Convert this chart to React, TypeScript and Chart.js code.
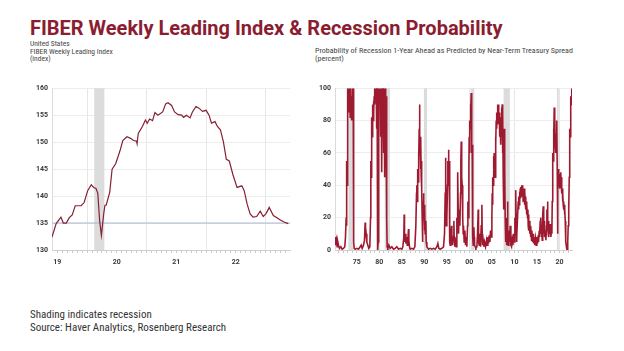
import React, { useEffect, useRef } from 'react';
import { Chart, registerables } from 'chart.js';

Chart.register(...registerables);

// ---------- text ----------
const TITLE = 'FIBER Weekly Leading Index & Recession Probability';
const LEFT_SUB = ['United States', 'FIBER Weekly Leading Index', '(index)'];
const RIGHT_SUB = ['Probability of Recession 1-Year Ahead as Predicted by Near-Term Treasury Spread', '(percent)'];
const FOOTER = ['Shading indicates recession', 'Source: Haver Analytics, Rosenberg Research'];

// ---------- left chart data ----------
const leftYears = [
  2019.41, 2019.48, 2019.56, 2019.60, 2019.65, 2019.70, 2019.75, 2019.80, 2019.90, 2019.95,
  2020.01, 2020.07, 2020.11, 2020.15, 2020.18, 2020.21, 2020.24, 2020.28, 2020.30, 2020.32,
  2020.38, 2020.42, 2020.48, 2020.55, 2020.60, 2020.67, 2020.73, 2020.78, 2020.83, 2020.84,
  2020.86, 2020.93, 2020.98, 2021.01, 2021.05, 2021.10, 2021.14, 2021.19, 2021.27, 2021.32,
  2021.36, 2021.42, 2021.47, 2021.53, 2021.59, 2021.62, 2021.67, 2021.73, 2021.77, 2021.83,
  2021.88, 2021.94, 2022.00, 2022.05, 2022.09, 2022.15, 2022.19, 2022.24, 2022.29, 2022.34,
  2022.39, 2022.45, 2022.52, 2022.60, 2022.64, 2022.69, 2022.74, 2022.79, 2022.85, 2022.91,
  2022.96, 2023.01, 2023.06, 2023.13, 2023.19, 2023.24, 2023.31, 2023.38,
];
const leftIndex = [
  132.4, 134.9, 136.1, 135.0, 135.0, 136.0, 136.5, 138.2, 138.2, 138.8,
  141.0, 142.1, 141.6, 141.4, 140.5, 135.5, 132.7, 136.8, 138.3, 138.3,
  140.7, 145.0, 146.0, 148.3, 150.3, 151.0, 150.7, 150.3, 150.2, 149.7,
  151.6, 152.9, 154.1, 153.5, 154.3, 154.0, 155.5, 155.0, 155.6, 157.1,
  157.3, 156.8, 155.6, 155.1, 155.0, 154.6, 155.0, 154.5, 155.6, 156.6,
  156.3, 155.7, 155.9, 155.0, 153.5, 153.8, 152.9, 152.3, 150.1, 146.8,
  146.5, 144.0, 141.6, 141.9, 141.0, 138.5, 136.7, 136.1, 136.2, 137.2,
  136.2, 136.8, 137.9, 136.4, 136.0, 135.6, 135.2, 134.9,
];
const leftRefLevel = 135;
const leftRange = [2019.41, 2023.41];
const leftYRange = [130, 160];
const leftLabelYears = [2019.5, 2020.5, 2021.5, 2022.5];
const leftLabels = ['19', '20', '21', '22'];
const leftGridYears = [2020, 2021, 2022, 2023];
const leftRecessions: [number, number][] = [[2020.12, 2020.29]];

// ---------- right chart data: [year, percent] ----------
const recessionProb: [number, number][] = [
  [1970.19, 8], [1970.33, 3], [1970.48, 6], [1970.63, 2], [1970.78, 5], [1970.93, 3], [1971.15, 1], [1971.44, 2],
  [1971.74, 0.5], [1972.04, 1], [1972.33, 2], [1972.48, 8], [1972.63, 20], [1972.70, 15], [1972.78, 55], [1972.85, 40],
  [1972.93, 80], [1973.00, 100], [1973.07, 92], [1973.15, 100], [1973.22, 85], [1973.30, 98], [1973.37, 90], [1973.44, 100],
  [1973.52, 82], [1973.59, 96], [1973.67, 100], [1973.74, 88], [1973.81, 95], [1973.89, 80], [1973.96, 92], [1974.04, 100],
  [1974.11, 85], [1974.19, 100], [1974.26, 60], [1974.33, 5], [1974.41, 1], [1974.63, 0.5], [1975.00, 1], [1975.37, 0.5],
  [1975.74, 2], [1975.96, 3], [1976.19, 1], [1976.48, 3], [1976.70, 6], [1976.85, 17], [1976.93, 8], [1977.07, 10],
  [1977.22, 5], [1977.44, 3], [1977.67, 1], [1977.89, 2], [1978.04, 20], [1978.11, 55], [1978.19, 45], [1978.26, 75],
  [1978.33, 82], [1978.41, 70], [1978.48, 85], [1978.56, 90], [1978.63, 80], [1978.70, 92], [1978.78, 85], [1978.85, 95],
  [1978.93, 100], [1979.00, 90], [1979.07, 100], [1979.22, 95], [1979.30, 100], [1979.37, 75], [1979.44, 100], [1979.52, 100],
  [1979.59, 30], [1979.67, 0], [1979.74, 5], [1979.81, 60], [1979.89, 100], [1979.96, 90], [1980.04, 100], [1980.11, 100],
  [1980.19, 95], [1980.26, 100], [1980.33, 70], [1980.41, 100], [1980.48, 100], [1980.56, 48], [1980.63, 100], [1980.70, 90],
  [1980.78, 100], [1980.85, 100], [1980.93, 60], [1981.00, 100], [1981.07, 95], [1981.15, 100], [1981.22, 45], [1981.30, 100],
  [1981.37, 92], [1981.44, 95], [1981.52, 70], [1981.59, 95], [1981.67, 20], [1981.74, 2], [1981.89, 1], [1982.11, 3],
  [1982.41, 1], [1982.78, 2], [1983.15, 0.5], [1983.52, 1], [1983.89, 2], [1984.26, 0.5], [1984.63, 1], [1985.00, 0.5],
  [1985.22, 2], [1985.44, 8], [1985.52, 22], [1985.59, 5], [1985.74, 10], [1985.89, 4], [1986.04, 8], [1986.19, 3],
  [1986.33, 6], [1986.48, 13], [1986.56, 6], [1986.70, 2], [1986.85, 0.5], [1987.22, 1], [1987.59, 0.5], [1987.89, 2],
  [1988.11, 15], [1988.26, 35], [1988.33, 40], [1988.41, 30], [1988.48, 45], [1988.56, 50], [1988.63, 42], [1988.70, 60],
  [1988.78, 55], [1988.85, 75], [1988.93, 90], [1989.00, 60], [1989.07, 70], [1989.15, 50], [1989.22, 70], [1989.30, 45],
  [1989.37, 55], [1989.44, 38], [1989.52, 20], [1989.59, 5], [1989.67, 15], [1989.74, 30], [1989.81, 35], [1989.89, 20],
  [1989.96, 28], [1990.04, 12], [1990.11, 25], [1990.19, 10], [1990.33, 18], [1990.41, 5], [1990.56, 2], [1990.93, 0.5],
  [1991.30, 1], [1991.67, 0.5], [1992.04, 1], [1992.41, 0.5], [1992.78, 2], [1993.00, 4], [1993.22, 1], [1993.52, 0.5],
  [1993.89, 1], [1994.26, 2], [1994.48, 10], [1994.63, 35], [1994.70, 57], [1994.78, 45], [1994.85, 15], [1995.00, 20],
  [1995.15, 40], [1995.22, 55], [1995.30, 50], [1995.37, 62], [1995.44, 40], [1995.52, 55], [1995.59, 20], [1995.67, 5],
  [1995.74, 3], [1995.89, 8], [1996.04, 15], [1996.11, 10], [1996.26, 3], [1996.41, 8], [1996.56, 18], [1996.63, 8],
  [1996.78, 2], [1996.93, 5], [1997.07, 2], [1997.22, 20], [1997.30, 15], [1997.37, 30], [1997.44, 48], [1997.52, 25],
  [1997.59, 10], [1997.74, 22], [1997.89, 15], [1998.04, 35], [1998.11, 55], [1998.19, 67], [1998.26, 60], [1998.33, 45],
  [1998.41, 40], [1998.48, 30], [1998.56, 20], [1998.63, 10], [1998.70, 15], [1998.85, 5], [1999.00, 12], [1999.15, 3],
  [1999.30, 8], [1999.44, 2], [1999.59, 15], [1999.67, 30], [1999.81, 20], [1999.89, 50], [1999.96, 70], [2000.04, 60],
  [2000.11, 80], [2000.19, 75], [2000.26, 90], [2000.33, 85], [2000.41, 97], [2000.48, 80], [2000.56, 60], [2000.63, 65],
  [2000.70, 40], [2000.78, 8], [2000.85, 3], [2001.00, 14], [2001.07, 8], [2001.15, 3], [2001.30, 2], [2001.44, 1],
  [2001.67, 2], [2001.81, 10], [2001.96, 25], [2002.04, 5], [2002.19, 3], [2002.33, 10], [2002.48, 2], [2002.63, 15],
  [2002.78, 28], [2002.85, 10], [2002.93, 3], [2003.07, 6], [2003.22, 2], [2003.37, 5], [2003.59, 2], [2003.81, 6],
  [2003.96, 3], [2004.11, 8], [2004.26, 4], [2004.41, 9], [2004.56, 5], [2004.70, 12], [2004.85, 8], [2005.00, 20],
  [2005.07, 35], [2005.15, 28], [2005.22, 45], [2005.30, 40], [2005.37, 58], [2005.44, 50], [2005.52, 60], [2005.59, 45],
  [2005.67, 55], [2005.74, 45], [2005.81, 70], [2005.89, 65], [2005.96, 80], [2006.04, 75], [2006.11, 85], [2006.19, 78],
  [2006.26, 90], [2006.33, 80], [2006.41, 88], [2006.48, 90], [2006.56, 78], [2006.63, 85], [2006.70, 70], [2006.78, 80],
  [2006.85, 75], [2006.93, 82], [2007.00, 65], [2007.07, 78], [2007.15, 88], [2007.22, 70], [2007.30, 90], [2007.37, 60],
  [2007.44, 85], [2007.52, 45], [2007.59, 25], [2007.67, 60], [2007.74, 75], [2007.81, 30], [2007.89, 50], [2007.96, 20],
  [2008.04, 10], [2008.11, 5], [2008.19, 15], [2008.26, 3], [2008.33, 20], [2008.41, 10], [2008.48, 30], [2008.56, 8],
  [2008.63, 3], [2008.78, 12], [2008.93, 5], [2009.07, 15], [2009.22, 3], [2009.37, 2], [2009.52, 6], [2009.67, 3],
  [2009.81, 10], [2009.96, 5], [2010.11, 20], [2010.19, 12], [2010.26, 25], [2010.33, 37], [2010.41, 15], [2010.48, 5],
  [2010.56, 8], [2010.70, 20], [2010.85, 30], [2010.93, 25], [2011.00, 33], [2011.07, 28], [2011.15, 36], [2011.22, 30],
  [2011.30, 38], [2011.37, 32], [2011.44, 39], [2011.52, 35], [2011.59, 40], [2011.67, 33], [2011.74, 40], [2011.81, 36],
  [2011.89, 38], [2011.96, 30], [2012.04, 37], [2012.11, 32], [2012.19, 38], [2012.26, 28], [2012.33, 36], [2012.41, 30],
  [2012.48, 33], [2012.56, 25], [2012.63, 30], [2012.70, 22], [2012.78, 28], [2012.93, 20], [2013.00, 25], [2013.07, 15],
  [2013.15, 22], [2013.22, 12], [2013.37, 18], [2013.44, 10], [2013.52, 15], [2013.59, 8], [2013.67, 14], [2013.81, 6],
  [2013.89, 12], [2014.04, 5], [2014.19, 10], [2014.26, 4], [2014.41, 8], [2014.56, 3], [2014.70, 7], [2014.85, 3],
  [2015.00, 8], [2015.15, 4], [2015.30, 9], [2015.37, 5], [2015.52, 12], [2015.59, 8], [2015.74, 18], [2015.81, 10],
  [2015.89, 20], [2015.96, 14], [2016.04, 8], [2016.11, 12], [2016.19, 6], [2016.26, 15], [2016.33, 22], [2016.41, 27],
  [2016.48, 15], [2016.56, 10], [2016.63, 18], [2016.70, 8], [2016.85, 12], [2017.00, 6], [2017.15, 15], [2017.22, 25],
  [2017.30, 20], [2017.37, 30], [2017.44, 15], [2017.52, 10], [2017.59, 18], [2017.67, 8], [2017.74, 15], [2017.81, 10],
  [2017.96, 16], [2018.11, 8], [2018.26, 14], [2018.33, 10], [2018.41, 30], [2018.48, 45], [2018.56, 60], [2018.63, 55],
  [2018.70, 75], [2018.78, 70], [2018.85, 88], [2018.93, 75], [2019.00, 80], [2019.07, 65], [2019.15, 72], [2019.22, 60],
  [2019.30, 70], [2019.37, 65], [2019.44, 80], [2019.52, 50], [2019.59, 10], [2019.67, 40], [2019.74, 50], [2019.81, 42],
  [2019.89, 48], [2019.96, 40], [2020.04, 46], [2020.11, 38], [2020.19, 47], [2020.26, 42], [2020.33, 48], [2020.41, 40],
  [2020.48, 45], [2020.56, 35], [2020.63, 38], [2020.70, 30], [2020.78, 35], [2020.85, 28], [2020.93, 30], [2021.00, 25],
  [2021.07, 28], [2021.15, 22], [2021.22, 25], [2021.30, 18], [2021.37, 10], [2021.44, 5], [2021.52, 3], [2021.59, 1],
  [2021.67, 0.5], [2021.74, 0], [2021.81, 1], [2021.89, 5], [2021.96, 15], [2022.04, 30], [2022.11, 25], [2022.19, 45],
  [2022.26, 60], [2022.33, 75], [2022.41, 70], [2022.48, 85], [2022.56, 95], [2022.63, 90], [2022.70, 100], [2022.78, 100],
];
const rightRange = [1970.15, 2022.8];
const rightYRange = [0, 100];
const rightLabelYears = [1975, 1980, 1985, 1990, 1995, 2000, 2005, 2010, 2015, 2020];
const rightLabels = ['75', '80', '85', '90', '95', '00', '05', '10', '15', '20'];
const rightGridYears = [1980, 1990, 2000, 2010, 2020];
const rightRecessions: [number, number][] = [
  [1973.13, 1974.24], [1979.35, 1979.8], [1981.2, 1982.35], [1989.9, 1990.6],
  [2000.3, 2001.1], [2007.6, 2009.0], [2019.45, 2019.85],
];

// ---------- styling ----------
const TICK_FONT = { family: 'Roboto, "Liberation Sans", Arial, sans-serif', size: 7, weight: 'bold' as const };
const TICK_COLOR = '#3a3a3a';
const BAND_COLOR = '#dcdcdc';

const near = (a: number, b: number) => Math.abs(a - b) < 1e-6;

const bandPlugin = {
  id: 'bands',
  beforeDatasetsDraw(chart: any, _args: any, opts: any) {
    const { ctx, chartArea, scales } = chart;
    const xs = scales.x;
    ctx.save();
    ctx.fillStyle = opts.color;
    (opts.ranges || []).forEach(([a, b]: [number, number]) => {
      const x1 = xs.getPixelForValue(a);
      const x2 = xs.getPixelForValue(b);
      ctx.fillRect(x1, chartArea.top, x2 - x1, chartArea.bottom - chartArea.top);
    });
    ctx.restore();
  },
};

function xAxis(range: number[], tickValues: number[], labelYears: number[], labels: string[], gridYears: number[]) {
  return {
    type: 'linear',
    min: range[0],
    max: range[1],
    afterBuildTicks: (s: any) => {
      s.ticks = tickValues.map((v) => ({ value: v }));
    },
    afterFit: (s: any) => {
      s.height = 22;
    },
    ticks: {
      autoSkip: false,
      maxRotation: 0,
      padding: 5,
      font: TICK_FONT,
      color: TICK_COLOR,
      callback: (v: number) => {
        const i = labelYears.findIndex((y) => near(y, v));
        return i >= 0 ? labels[i] : '';
      },
    },
    grid: {
      color: (ctx: any) => (ctx.tick && gridYears.some((g) => near(g, ctx.tick.value)) ? '#e6e6e6' : 'rgba(0,0,0,0)'),
      tickColor: '#c9c9c9',
      tickLength: 3,
      drawTicks: true,
    },
    border: { color: '#cfcfcf' },
  };
}

function yAxis(range: number[], step: number, width: number) {
  return {
    min: range[0],
    max: range[1],
    afterFit: (s: any) => {
      s.width = width;
    },
    ticks: { stepSize: step, padding: 4, font: TICK_FONT, color: TICK_COLOR },
    grid: { color: '#ededed', drawTicks: false },
    border: { color: '#dadada' },
  };
}

function ChartCanvas({ config, style }: { config: () => any; style: React.CSSProperties }) {
  const ref = useRef<HTMLCanvasElement>(null);
  useEffect(() => {
    if (!ref.current) return;
    const chart = new Chart(ref.current, config());
    return () => chart.destroy();
  }, []);
  return <canvas ref={ref} width={style.width as number} height={style.height as number} style={{ position: 'absolute', ...style }} />;
}

function leftConfig() {
  const minorTicks: number[] = [];
  for (let m = 0; 2019.5 + m / 12 <= leftRange[1]; m++) minorTicks.push(Math.round((2019.5 + m / 12) * 1e6) / 1e6);
  return {
    type: 'line',
    data: {
      datasets: [
        {
          data: leftYears.map((x, i) => ({ x, y: leftIndex[i] })),
          borderColor: '#852035',
          borderWidth: 1.2,
          pointRadius: 0,
          tension: 0,
        },
        {
          data: [{ x: leftRange[0], y: leftRefLevel }, { x: leftRange[1], y: leftRefLevel }],
          borderColor: '#a7b7d2',
          borderWidth: 1,
          pointRadius: 0,
        },
      ],
    },
    options: {
      responsive: false,
      animation: false,
      layout: { padding: { top: 7, right: 4, left: 0, bottom: 0 } },
      plugins: { legend: { display: false }, tooltip: { enabled: false }, bands: { color: BAND_COLOR, ranges: leftRecessions } },
      scales: {
        x: xAxis(leftRange, minorTicks, leftLabelYears, leftLabels, leftGridYears),
        y: yAxis(leftYRange, 5, 30),
      },
    },
    plugins: [bandPlugin],
  };
}

function rightConfig() {
  const yearTicks: number[] = [];
  for (let y = 1971; y <= 2022; y++) yearTicks.push(y);
  return {
    type: 'line',
    data: {
      datasets: [
        {
          data: recessionProb.map(([x, y]) => ({ x, y })),
          borderColor: '#9e1a30',
          borderWidth: 1.6,
          pointRadius: 0,
          tension: 0,
        },
      ],
    },
    options: {
      responsive: false,
      animation: false,
      layout: { padding: { top: 7, right: 4, left: 0, bottom: 0 } },
      plugins: { legend: { display: false }, tooltip: { enabled: false }, bands: { color: BAND_COLOR, ranges: rightRecessions } },
      scales: {
        x: xAxis(rightRange, yearTicks, rightLabelYears, rightLabels, rightGridYears),
        y: yAxis(rightYRange, 20, 37),
      },
    },
    plugins: [bandPlugin],
  };
}

const SMALL_FONT = '"Liberation Sans Narrow", "Roboto Condensed", "Liberation Sans", Arial, sans-serif';

export default function App() {
  return (
    <div style={{ position: 'absolute', left: 0, top: 0, width: 624, height: 351, background: '#fff', overflow: 'hidden' }}>
      <div
        style={{
          position: 'absolute', left: 30, top: 18, fontFamily: 'Roboto, "Liberation Sans", Arial, sans-serif',
          fontWeight: 700, fontSize: 20, lineHeight: '20px', color: '#8b1d31', whiteSpace: 'nowrap',
        }}
      >
        {TITLE}
      </div>
      <div style={{ position: 'absolute', left: 30, top: 40, fontFamily: SMALL_FONT, fontSize: 7.5, lineHeight: '7.5px', color: '#444', whiteSpace: 'nowrap' }}>
        {LEFT_SUB.map((t) => (<div key={t}>{t}</div>))}
      </div>
      <div style={{ position: 'absolute', left: 315, top: 46.5, fontFamily: SMALL_FONT, fontSize: 8, lineHeight: '8.5px', color: '#444', whiteSpace: 'nowrap' }}>
        {RIGHT_SUB.map((t) => (<div key={t}>{t}</div>))}
      </div>
      <ChartCanvas config={leftConfig} style={{ left: 22, top: 80, width: 272, height: 192 }} />
      <ChartCanvas config={rightConfig} style={{ left: 298, top: 80, width: 278, height: 192 }} />
      <div style={{ position: 'absolute', left: 30, top: 308, fontFamily: SMALL_FONT, fontSize: 11, lineHeight: '13px', color: '#333', whiteSpace: 'nowrap' }}>
        {FOOTER.map((t) => (<div key={t}>{t}</div>))}
      </div>
    </div>
  );
}
